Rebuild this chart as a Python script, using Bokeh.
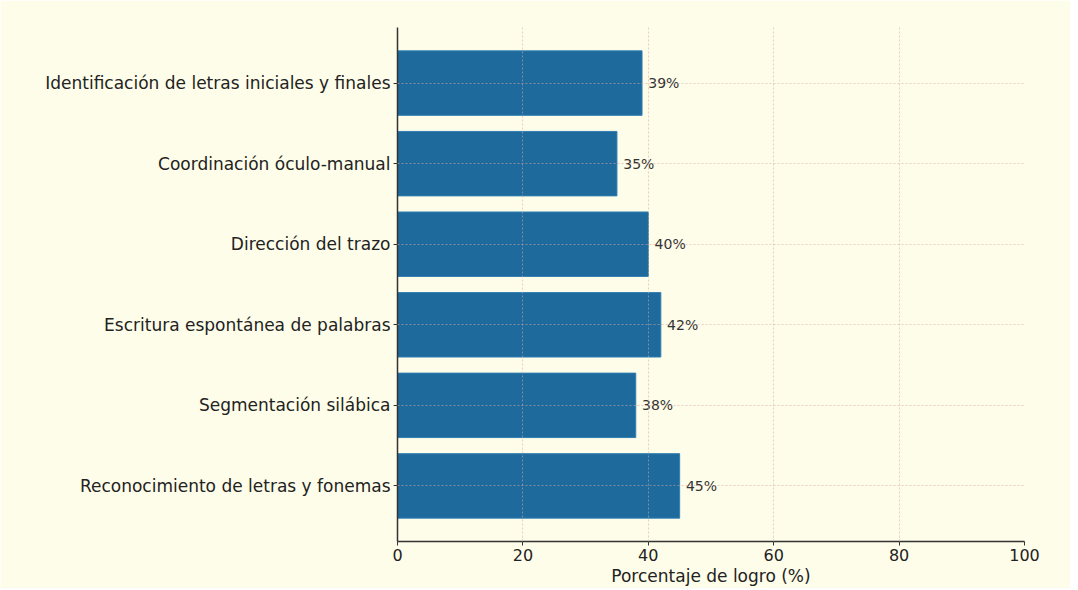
from bokeh.plotting import figure
from bokeh.models import ColumnDataSource, FactorRange, Range1d, FixedTicker
from bokeh.core.properties import value
from bokeh.embed import file_html
from bokeh.resources import INLINE

categories = [
    "Reconocimiento de letras y fonemas",
    "Segmentación silábica",
    "Escritura espontánea de palabras",
    "Dirección del trazo",
    "Coordinación óculo-manual",
    "Identificación de letras iniciales y finales",
]
values = [45, 38, 42, 40, 35, 39]
labels = [f"{v}%" for v in values]
x_ticks = [0, 20, 40, 60, 80, 100]

BG = "#fefde9"
FONT = "DejaVu Sans"

src = ColumnDataSource(dict(cat=categories, val=values, lab=labels,
                            lx=[v + 1 for v in values]))

p = figure(width=1070, height=588, output_backend="svg", toolbar_location=None,
           y_range=FactorRange(factors=categories, range_padding=0.38 / 6),
           x_range=Range1d(0, 100),
           min_border_left=397, min_border_right=46, min_border_top=27,
           min_border_bottom=40)
p.background_fill_color = BG
p.border_fill_color = BG
p.outline_line_color = None

p.hbar(y="cat", right="val", left=0, height=0.8, source=src,
       fill_color="#1f6a9c", line_color="#2f7fb3", line_width=1)

p.text(x="lx", y="cat", text="lab", source=src, text_font=value(FONT),
       text_font_size="14px", text_baseline="middle", text_align="left",
       text_color="#333333")

for g in (p.xgrid, p.ygrid):
    g.grid_line_color = "#d8a8a0"
    g.grid_line_alpha = 0.55
    g.grid_line_dash = "2 2"
    g.grid_line_width = 1
    g.level = "overlay"

p.xaxis.ticker = FixedTicker(ticks=x_ticks)
p.xaxis.axis_label = "Porcentaje de logro (%)"
for ax in (p.xaxis, p.yaxis):
    ax.axis_line_color = "#333333"
    ax.axis_line_width = 1.5
    ax.major_tick_line_color = "#333333"
    ax.major_tick_out = 4
    ax.major_tick_in = 0
    ax.minor_tick_line_color = None
    ax.major_label_text_font = FONT
    ax.major_label_text_font_size = "16px"
    ax.major_label_text_color = "#222222"
    ax.axis_label_text_font = FONT
    ax.axis_label_text_font_size = "17px"
    ax.axis_label_text_font_style = "normal"
    ax.axis_label_text_color = "#222222"
p.yaxis.major_label_text_font_size = "17px"
p.xaxis.major_label_standoff = 3
p.xaxis.axis_label_standoff = 2
p.yaxis.major_label_standoff = 3

open("out.html", "w").write(file_html(p, INLINE))
